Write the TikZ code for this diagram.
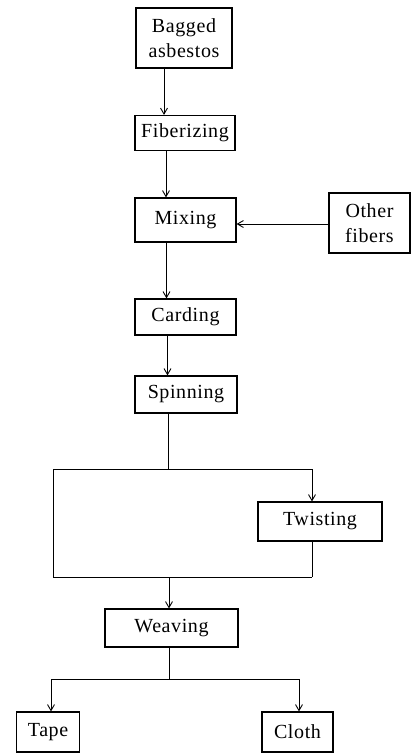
\documentclass[tikz,border=0pt]{standalone}
\usepackage{fontspec}
\setmainfont{Liberation Serif}[LetterSpace=3]
\usetikzlibrary{arrows.meta}
\begin{document}
\begin{tikzpicture}[x=1pt,y=-1pt,
  proc/.style={draw,line width=1.2pt,inner sep=0pt,align=center,
    font=\fontsize{20}{25}\selectfont},
  link/.style={line width=0.9pt},
  arr/.style={link,-{Straight Barb[length=6pt,width=7pt,line width=0.9pt]}}]
\useasboundingbox (0,0) rectangle (413,753);
% process boxes
\node[proc,minimum width=96pt,minimum height=60pt] (bag) at (184,38) {Bagged\\asbestos};
\node[proc,minimum width=100pt,minimum height=35pt] (fib) at (185,133) {Fiberizing};
\node[proc,minimum width=101pt,minimum height=44pt] (mix) at (185.5,220) {Mixing};
\node[proc,minimum width=81pt,minimum height=60pt] (oth) at (369.5,223) {Other\\fibers};
\node[proc,minimum width=101pt,minimum height=36pt] (card) at (185.5,317) {Carding};
\node[proc,minimum width=102pt,minimum height=37pt] (spin) at (186,394.5) {Spinning};
\node[proc,minimum width=124pt,minimum height=39pt] (twist) at (320,521.5) {Twisting};
\node[proc,minimum width=133pt,minimum height=38pt] (weave) at (171.5,628) {Weaving};
\node[proc,minimum width=63pt,minimum height=40pt] (tape) at (48,732) {Tape};
\node[proc,minimum width=71pt,minimum height=40pt] (cloth) at (297.5,732) {Cloth};
% junction points
\coordinate (split) at (168,469);
\coordinate (splitL) at (53,469);
\coordinate (splitR) at (312,469);
\coordinate (merge) at (169,577);
\coordinate (mergeL) at (53,577);
\coordinate (mergeR) at (312,577);
\coordinate (fork) at (169,679);
\coordinate (forkL) at (51,679);
\coordinate (forkR) at (299,679);
% main line
\draw[arr] ([xshift=-20pt]bag.south) -- ([xshift=-20pt]bag.south |- fib.north);
\draw[arr] ([xshift=-19pt]fib.south) -- ([xshift=-19pt]fib.south |- mix.north);
\draw[arr] (oth.west |- 0,224) -- (mix.east |- 0,224);
\draw[arr] ([xshift=-19pt]mix.south) -- ([xshift=-19pt]mix.south |- card.north);
\draw[arr] ([xshift=-18pt]card.south) -- ([xshift=-18pt]card.south |- spin.north);
% twisting bypass
\draw[link] (spin.south -| split) -- (split);
\draw[link] (splitR) -- (splitL) -- (mergeL) -- (mergeR);
\draw[arr] (splitR) -- (splitR |- twist.north);
\draw[link] (twist.south -| mergeR) -- (mergeR);
\draw[arr] (merge) -- (merge |- weave.north);
% products
\draw[link] (weave.south -| fork) -- (fork);
\draw[link] (forkL) -- (forkR);
\draw[arr] (forkL) -- (forkL |- tape.north);
\draw[arr] (forkR) -- (forkR |- cloth.north);
\end{tikzpicture}
\end{document}
